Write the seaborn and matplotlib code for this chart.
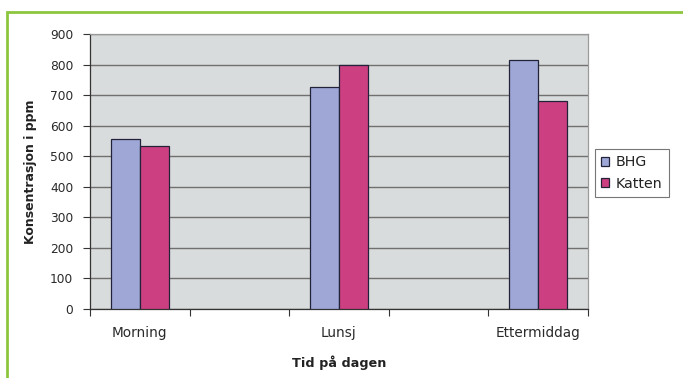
import matplotlib
matplotlib.use("Agg")
import matplotlib.pyplot as plt
import seaborn as sns
import numpy as np
import pandas as pd
from matplotlib.patches import Rectangle

# Data
categories = ["Morning", "_gap1", "Lunsj", "_gap2", "Ettermiddag"]
tick_labels = ["Morning", "", "Lunsj", "", "Ettermiddag"]
bhg = [555, np.nan, 725, np.nan, 815]
katten = [533, np.nan, 797, np.nan, 682]
series = ["BHG", "Katten"]
colors = ["#9ea7d6", "#cc3f80"]

df = pd.DataFrame({
    "cat": categories * 2,
    "val": bhg + katten,
    "serie": [series[0]] * len(categories) + [series[1]] * len(categories),
})

sns.set_theme(style="white")
plt.rcParams["font.family"] = ["DejaVu Sans"]

fig = plt.figure(figsize=(6.83, 3.78), dpi=100)
ax = fig.add_axes([90 / 683, 1 - 309 / 378, (588 - 90) / 683, (309 - 34) / 378])
ax.set_facecolor("#d9dcdc")

sns.barplot(data=df, x="cat", y="val", hue="serie", order=categories,
            hue_order=series, palette=colors, width=0.58, dodge=True,
            edgecolor="#22223a", linewidth=0.9, saturation=1, ax=ax, zorder=3)

ax.set_ylim(0, 900)
ax.set_xlim(-0.5, len(categories) - 0.5)
ax.set_yticks(np.arange(0, 901, 100))
ax.yaxis.grid(True, color="#707070", linewidth=1.0, zorder=0)
ax.set_axisbelow(True)
ax.tick_params(axis="y", length=5, width=0.8, color="#333333", labelsize=8.8,
               left=True, pad=7, labelcolor="#2a2a2a")

# boundary ticks on x (no labels), labels at centers (minor)
ax.set_xticks(np.arange(-0.5, len(categories), 1.0))
ax.set_xticklabels([""] * (len(categories) + 1))
ax.tick_params(axis="x", which="major", length=5, width=0.8, color="#333333",
               bottom=True)
ax.set_xticks(np.arange(len(categories)), minor=True)
ax.set_xticklabels(tick_labels, minor=True)
ax.tick_params(axis="x", which="minor", length=0, labelsize=9.8, pad=12.5,
               labelcolor="#2a2a2a")

for s in ["left", "bottom"]:
    ax.spines[s].set_color("#333333")
    ax.spines[s].set_linewidth(0.9)
for s in ["top", "right"]:
    ax.spines[s].set_color("#9a9a9a")
    ax.spines[s].set_linewidth(0.9)

ax.set_ylabel("Konsentrasjon i ppm", fontsize=9, fontweight="bold",
              color="#222222", labelpad=9)
ax.set_xlabel("Tid på dagen", fontsize=9.2, fontweight="bold",
              color="#222222", labelpad=11)

leg = ax.legend(loc="center left", bbox_to_anchor=(595 / 683, 1 - 173 / 378),
                bbox_transform=fig.transFigure, frameon=True, fancybox=False,
                fontsize=10.2, handlelength=0.55, handleheight=0.55,
                handletextpad=0.45, borderpad=0.45, labelspacing=0.5,
                borderaxespad=0, edgecolor="#555555")
leg.get_frame().set_linewidth(0.8)
for t in leg.get_texts():
    t.set_color("#222222")

# green frame
fig.patches.append(Rectangle((7 / 683, -0.05), 1.2, 1 - 12 / 378 + 0.05,
                             transform=fig.transFigure, fill=False,
                             edgecolor="#8cc63e", linewidth=2.0, zorder=10))

fig.savefig("out.png", dpi=100)
